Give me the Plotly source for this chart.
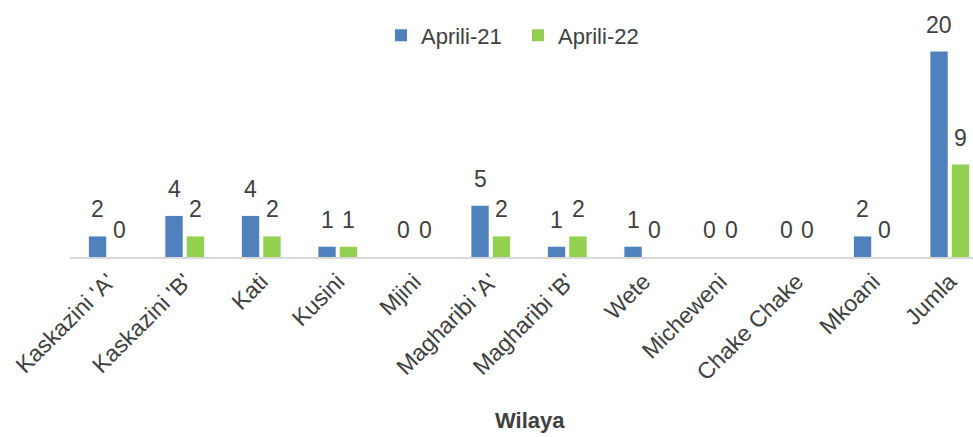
import plotly.graph_objects as go

wilaya = ["Kaskazini 'A'", "Kaskazini 'B'", "Kati", "Kusini", "Mjini",
          "Magharibi 'A'", "Magharibi 'B'", "Wete", "Micheweni",
          "Chake Chake", "Mkoani", "Jumla"]
aprili_21 = [2, 4, 4, 1, 0, 5, 1, 1, 0, 0, 2, 20]
aprili_22 = [0, 2, 2, 1, 0, 2, 2, 0, 0, 0, 0, 9]

FONT = "Liberation Sans Narrow, Arial Narrow, Liberation Sans, Arial"
TEXT = "#404040"

W, H = 973, 437
L, T, B = 70, 31, 180
PLOT_W = W - L
PLOT_H = H - T - B

fig = go.Figure()

# Nguzo za kila mfululizo
fig.add_trace(go.Bar(x=wilaya, y=aprili_21, name="Aprili-21",
                     marker=dict(color="#4F81BD", line=dict(width=0))))
fig.add_trace(go.Bar(x=wilaya, y=aprili_22, name="Aprili-22",
                     marker=dict(color="#92D050", line=dict(width=0))))

# Lebo za thamani juu ya nguzo
for values, shift in [(aprili_21, -10.75), (aprili_22, 10.75)]:
    for w, v in zip(wilaya, values):
        fig.add_annotation(x=w, y=v, text=str(v), showarrow=False,
                           xshift=shift, yshift=12, yanchor="bottom",
                           font=dict(size=23, color=TEXT, family=FONT))

# Jina la mhimili
fig.add_annotation(text="<b>Wilaya</b>", xref="paper", yref="paper",
                   x=(530 - L) / PLOT_W, y=-(420 - (T + PLOT_H)) / PLOT_H,
                   xanchor="center", yanchor="middle", showarrow=False,
                   font=dict(size=22, color=TEXT, family=FONT))

fig.update_layout(
    width=W, height=H,
    margin=dict(l=L, r=0, t=T, b=B),
    barmode="group", bargap=0.44, bargroupgap=0.19,
    plot_bgcolor="white", paper_bgcolor="white",
    font=dict(family=FONT, color=TEXT),
    showlegend=True,
    legend=dict(orientation="h", x=(381 - L) / PLOT_W, xanchor="left",
                y=1 - 4.5 / PLOT_H, yanchor="middle",
                font=dict(size=22, color=TEXT, family=FONT),
                itemwidth=30, entrywidth=92, traceorder="normal"),
    xaxis=dict(tickangle=-45, tickfont=dict(size=23, color=TEXT),
               range=[-0.5, -0.5 + PLOT_W / 76.5], automargin=False,
               showline=True, linecolor="#D9D9D9", linewidth=2,
               showgrid=False, ticks=""),
    yaxis=dict(range=[0, 22], visible=False, showgrid=False, fixedrange=True),
)

# ondoa pambizo la ukurasa ili kielelezo kianzie kona ya juu kushoto
fig.write_html("out.html", config={"displayModeBar": False},
               post_script="document.body.style.margin='0';document.body.style.overflow='hidden';")
